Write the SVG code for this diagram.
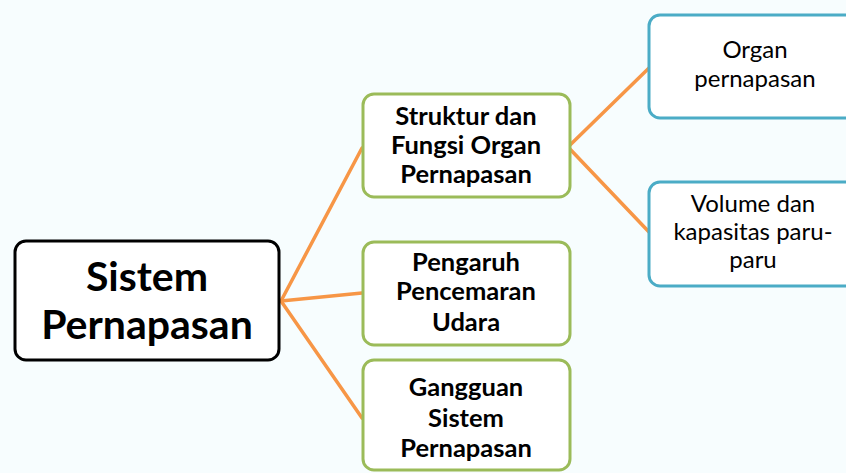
<svg xmlns="http://www.w3.org/2000/svg" width="846" height="473" viewBox="0 0 846 473">
<style>
.bg{fill:#f7fdfe}
.box{fill:#ffffff;stroke-width:3}
.main{stroke:#000000}
.grn{stroke:#9bbb59}
.blu{stroke:#4bacc6}
.con line{stroke:#f79646;stroke-width:3.5;stroke-linecap:round}
text{font-family:Lato,"Liberation Sans",sans-serif;text-anchor:middle;fill:#000}
.tm{font-size:41px;font-weight:bold}
.tg{font-size:25.5px;font-weight:bold}
.tb{font-size:24px}
</style>
<rect class="bg" x="0" y="0" width="846" height="473"/>
<g id="connectors" class="con">
<line x1="281" y1="301" x2="362" y2="148"/>
<line x1="281" y1="301" x2="362" y2="293"/>
<line x1="281" y1="301" x2="362" y2="418"/>
<line x1="568" y1="147" x2="649" y2="68"/>
<line x1="568" y1="147" x2="649" y2="232"/>
</g>
<g id="sistem-pernapasan">
<rect class="box main" x="15" y="241" width="264" height="119" rx="11"/>
<text class="tm" x="147" y="291">Sistem</text>
<text class="tm" x="147" y="339">Pernapasan</text>
</g>
<g id="struktur">
<rect class="box grn" x="363" y="94" width="207" height="103" rx="11"/>
<text class="tg" x="466" y="125">Struktur dan</text>
<text class="tg" x="466" y="154">Fungsi Organ</text>
<text class="tg" x="466" y="183">Pernapasan</text>
</g>
<g id="pengaruh">
<rect class="box grn" x="363" y="242" width="207" height="103" rx="11"/>
<text class="tg" x="466" y="271">Pengaruh</text>
<text class="tg" x="466" y="300">Pencemaran</text>
<text class="tg" x="466" y="331">Udara</text>
</g>
<g id="gangguan">
<rect class="box grn" x="363" y="360" width="207" height="110" rx="11"/>
<text class="tg" x="466" y="396">Gangguan</text>
<text class="tg" x="466" y="427">Sistem</text>
<text class="tg" x="466" y="457">Pernapasan</text>
</g>
<g id="organ">
<rect class="box blu" x="649" y="15" width="214" height="103" rx="11"/>
<text class="tb" x="755" y="58">Organ</text>
<text class="tb" x="755" y="87">pernapasan</text>
</g>
<g id="volume">
<rect class="box blu" x="649" y="182" width="214" height="104" rx="11"/>
<text class="tb" x="753" y="212">Volume dan</text>
<text class="tb" x="753" y="240">kapasitas paru-</text>
<text class="tb" x="753" y="268">paru</text>
</g>
</svg>
